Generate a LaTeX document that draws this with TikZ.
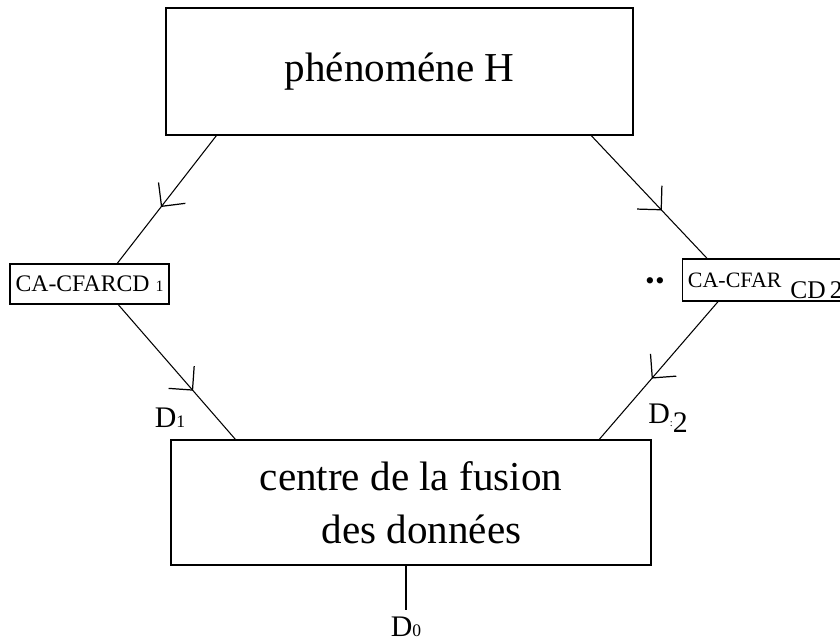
\documentclass[tikz,border=0pt]{standalone}
\usepackage{fontspec}
\setmainfont{Liberation Serif}
\usetikzlibrary{arrows.meta,positioning,calc,decorations.markings}

\begin{document}
\begin{tikzpicture}[x=0.02cm,y=-0.02cm,
   box/.style={draw,line width=0.8pt,inner sep=3pt},
   link/.style={line width=0.6pt,postaction={decorate},
     decoration={markings,mark=at position #1 with {\arrow{Straight Barb[length=3.4mm,width=6.8mm,line width=0.7pt]}}}},
   lbl/.style={inner sep=1pt,font=\fontsize{17}{19}\selectfont}]
  \useasboundingbox (0,0) rectangle (840,642);
  \node[box,minimum width=9.34cm,minimum height=2.54cm,font=\fontsize{23.4}{28}\selectfont] (phen) at (399.5,71.5) {phénoméne H};
  \node[box,minimum width=3.18cm,minimum height=0.8cm,font=\fontsize{13.5}{16}\selectfont] (cd1) at (89.5,284) {CA-CFARCD {\fontsize{9}{10}\selectfont 1}};
  \node[box,anchor=west,text width=3.6cm,minimum height=0.84cm,align=left,font=\fontsize{12.5}{14}\selectfont] (cd2) at (682,280)
    {CA-CFAR\hspace{5pt}\raisebox{-6.5pt}[0pt][0pt]{\fontsize{14.5}{16}\selectfont CD\,2}};
  \node[inner sep=0pt,font=\fontsize{15}{16}\selectfont] (dots) at (655,284) {\textbullet\hspace{0.5pt}\textbullet};
  \node[box,minimum width=9.6cm,minimum height=2.5cm,align=center,font=\fontsize{23.4}{30}\selectfont] (fuse) at (411,502.5)
    {centre de la fusion\\ \hspace*{12pt}des données};
  \node[lbl] (d1) at (170,418) {D{\fontsize{10}{11}\selectfont 1}};
  \node[lbl] (d2) at (668,418) {D\raisebox{-2pt}{\fontsize{6}{7}\selectfont :}\raisebox{-5pt}{2}};
  \node[lbl] (d0) at (406,627) {D{\fontsize{10}{11}\selectfont 0}};
  \draw[link=0.56] ($(phen.south west)+(51,0)$) -- ($(cd1.north west)+(108,0)$);
  \draw[link=0.64] ($(cd1.south west)+(109,0)$) -- ($(fuse.north west)+(65,0)$);
  \draw[link=0.61] ($(phen.south west)+(426,0)$) -- ($(cd2.north west)+(25,0)$);
  \draw[link=0.56] ($(cd2.south west)+(36,0)$) -- ($(fuse.north west)+(429,0)$);
  \draw[line width=0.6pt,shorten >=3pt] (d0.north |- fuse.south) -- (d0.north);
\end{tikzpicture}
\end{document}
